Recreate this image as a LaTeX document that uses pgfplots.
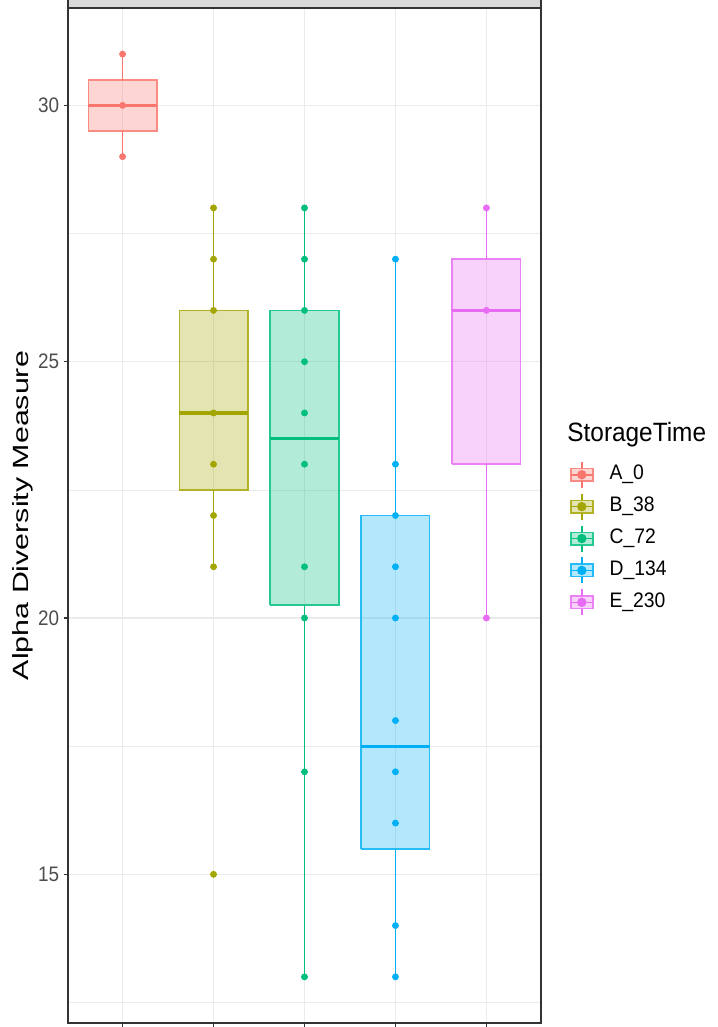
\documentclass[border=0pt]{standalone}
\usepackage{pgfplots}
\pgfplotsset{compat=1.18}
\usepackage{fontspec}
\setmainfont{Liberation Sans}
\newfontfamily\tickfont[FakeStretch=0.9]{Liberation Sans}
\newfontfamily\legfont[FakeStretch=0.92]{Liberation Sans}
\newfontfamily\ylabfont[FakeStretch=1.38]{Liberation Sans}
\definecolor{cA}{HTML}{F8766D}
\definecolor{cB}{HTML}{A3A500}
\definecolor{cC}{HTML}{00BF7D}
\definecolor{cD}{HTML}{00B0F6}
\definecolor{cE}{HTML}{E76BF3}
\definecolor{grid}{HTML}{EBEBEB}
\definecolor{dark}{HTML}{333333}
\definecolor{ticklab}{HTML}{4D4D4D}
\definecolor{strip}{HTML}{D9D9D9}
\pgfplotsset{
  box/.style={draw=#1!85!white, line width=0.9pt, fill=#1, fill opacity=0.3, line join=miter, forget plot},
  whisk/.style={draw=#1, line width=0.85pt, unbounded coords=jump, forget plot},
  med/.style={draw=#1, line width=1.6pt,
    legend image code/.code={
      \draw[#1!85!white, line width=0.8pt, fill=#1, fill opacity=0.3] (0pt,-3.1pt) rectangle (11pt,3.1pt);
      \draw[#1, line width=0.8pt] (5.5pt,3.1pt)--(5.5pt,6.5pt) (5.5pt,-3.1pt)--(5.5pt,-6.5pt) (0pt,0pt)--(11pt,0pt);
      \fill[#1] (5.5pt,0pt) circle (1.5pt);
    }
  },
  pts/.style={only marks, mark=*, mark size=1.5pt, color=#1, forget plot}
}
\begin{document}
\begin{tikzpicture}
\begin{axis}[
  at={(34pt,2pt)}, anchor=south west,
  scale only axis, width=236.5pt, height=507.5pt,
  xmin=0.4, xmax=5.6, ymin=12.1, ymax=31.9,
  xtick={1,2,3,4,5}, xticklabels={,,,,},
  ytick={15,20,25,30}, yticklabels={15,20,25,30},
  minor ytick={12.5,17.5,22.5,27.5},
  grid=both,
  major grid style={color=grid, line width=0.7pt},
  minor grid style={color=grid, line width=0.35pt},
  tick align=outside, tick pos=left,
  major tick length=2.2pt, minor tick length=0pt,
  tick style={color=dark, line width=0.6pt},
  axis line style={color=dark, line width=0.8pt},
  yticklabel style={font=\tickfont\fontsize{10.5}{12}\selectfont, color=ticklab, anchor=east, inner sep=0pt, xshift=-2pt},
  every axis y label/.style={at={(axis description cs:-0.0835,0.5)}, anchor=base, rotate=90, font=\ylabfont\fontsize{11}{13}\selectfont},
  ylabel={Alpha Diversity Measure},
  clip=false,
  legend cell align=left,
  legend style={at={(axis description cs:1.0613,0.4773)}, anchor=west, draw=none, fill=none,
    inner sep=0pt, outer sep=0pt, row sep=2.15pt, column sep=8pt,
    nodes={inner sep=0pt, text height=7.5pt, text depth=2.5pt},
    font=\legfont\fontsize{10.5}{12}\selectfont},
]
% A_0: q1=29.5 med=30 q3=30.5 whiskers 29..31
\addplot[box=cA] coordinates {(0.625,29.5) (1.375,29.5) (1.375,30.5) (0.625,30.5) (0.625,29.5)};
\addplot[whisk=cA] coordinates {(1,29) (1,29.5) (1,nan) (1,30.5) (1,31)};
% B_38: q1=22.5 med=24 q3=26 whiskers 21..28
\addplot[box=cB] coordinates {(1.625,22.5) (2.375,22.5) (2.375,26) (1.625,26) (1.625,22.5)};
\addplot[whisk=cB] coordinates {(2,21) (2,22.5) (2,nan) (2,26) (2,28)};
% C_72: q1=20.25 med=23.5 q3=26 whiskers 13..28
\addplot[box=cC] coordinates {(2.625,20.25) (3.375,20.25) (3.375,26) (2.625,26) (2.625,20.25)};
\addplot[whisk=cC] coordinates {(3,13) (3,20.25) (3,nan) (3,26) (3,28)};
% D_134: q1=15.5 med=17.5 q3=22 whiskers 13..27
\addplot[box=cD] coordinates {(3.625,15.5) (4.375,15.5) (4.375,22) (3.625,22) (3.625,15.5)};
\addplot[whisk=cD] coordinates {(4,13) (4,15.5) (4,nan) (4,22) (4,27)};
% E_230: q1=23 med=26 q3=27 whiskers 20..28
\addplot[box=cE] coordinates {(4.625,23) (5.375,23) (5.375,27) (4.625,27) (4.625,23)};
\addplot[whisk=cE] coordinates {(5,20) (5,23) (5,nan) (5,27) (5,28)};
% medians (with legend)
\addplot[med=cA] coordinates {(0.625,30) (1.375,30)};
\addlegendentry{A\_0}
\addplot[med=cB] coordinates {(1.625,24) (2.375,24)};
\addlegendentry{B\_38}
\addplot[med=cC] coordinates {(2.625,23.5) (3.375,23.5)};
\addlegendentry{C\_72}
\addplot[med=cD] coordinates {(3.625,17.5) (4.375,17.5)};
\addlegendentry{D\_134}
\addplot[med=cE] coordinates {(4.625,26) (5.375,26)};
\addlegendentry{E\_230}
% points
\addplot[pts=cA] coordinates {(1,29) (1,30) (1,31)};
\addplot[pts=cB] coordinates {(2,15) (2,21) (2,22) (2,23) (2,24) (2,26) (2,27) (2,28)};
\addplot[pts=cC] coordinates {(3,13) (3,17) (3,20) (3,21) (3,23) (3,24) (3,25) (3,26) (3,27) (3,28)};
\addplot[pts=cD] coordinates {(4,13) (4,14) (4,16) (4,17) (4,18) (4,20) (4,21) (4,22) (4,23) (4,27)};
\addplot[pts=cE] coordinates {(5,20) (5,26) (5,28)};
% top strip
\draw[fill=strip, draw=dark, line width=0.8pt] (rel axis cs:0,1) rectangle ([yshift=8pt]rel axis cs:1,1);
\end{axis}
\node[anchor=base west, inner sep=0pt, font=\legfont\fontsize{13.25}{15}\selectfont] at (283.5pt,292.5pt) {StorageTime};
\pgfresetboundingbox
\useasboundingbox (0,0) rectangle (358.5pt,513.5pt);
\end{tikzpicture}
\end{document}
